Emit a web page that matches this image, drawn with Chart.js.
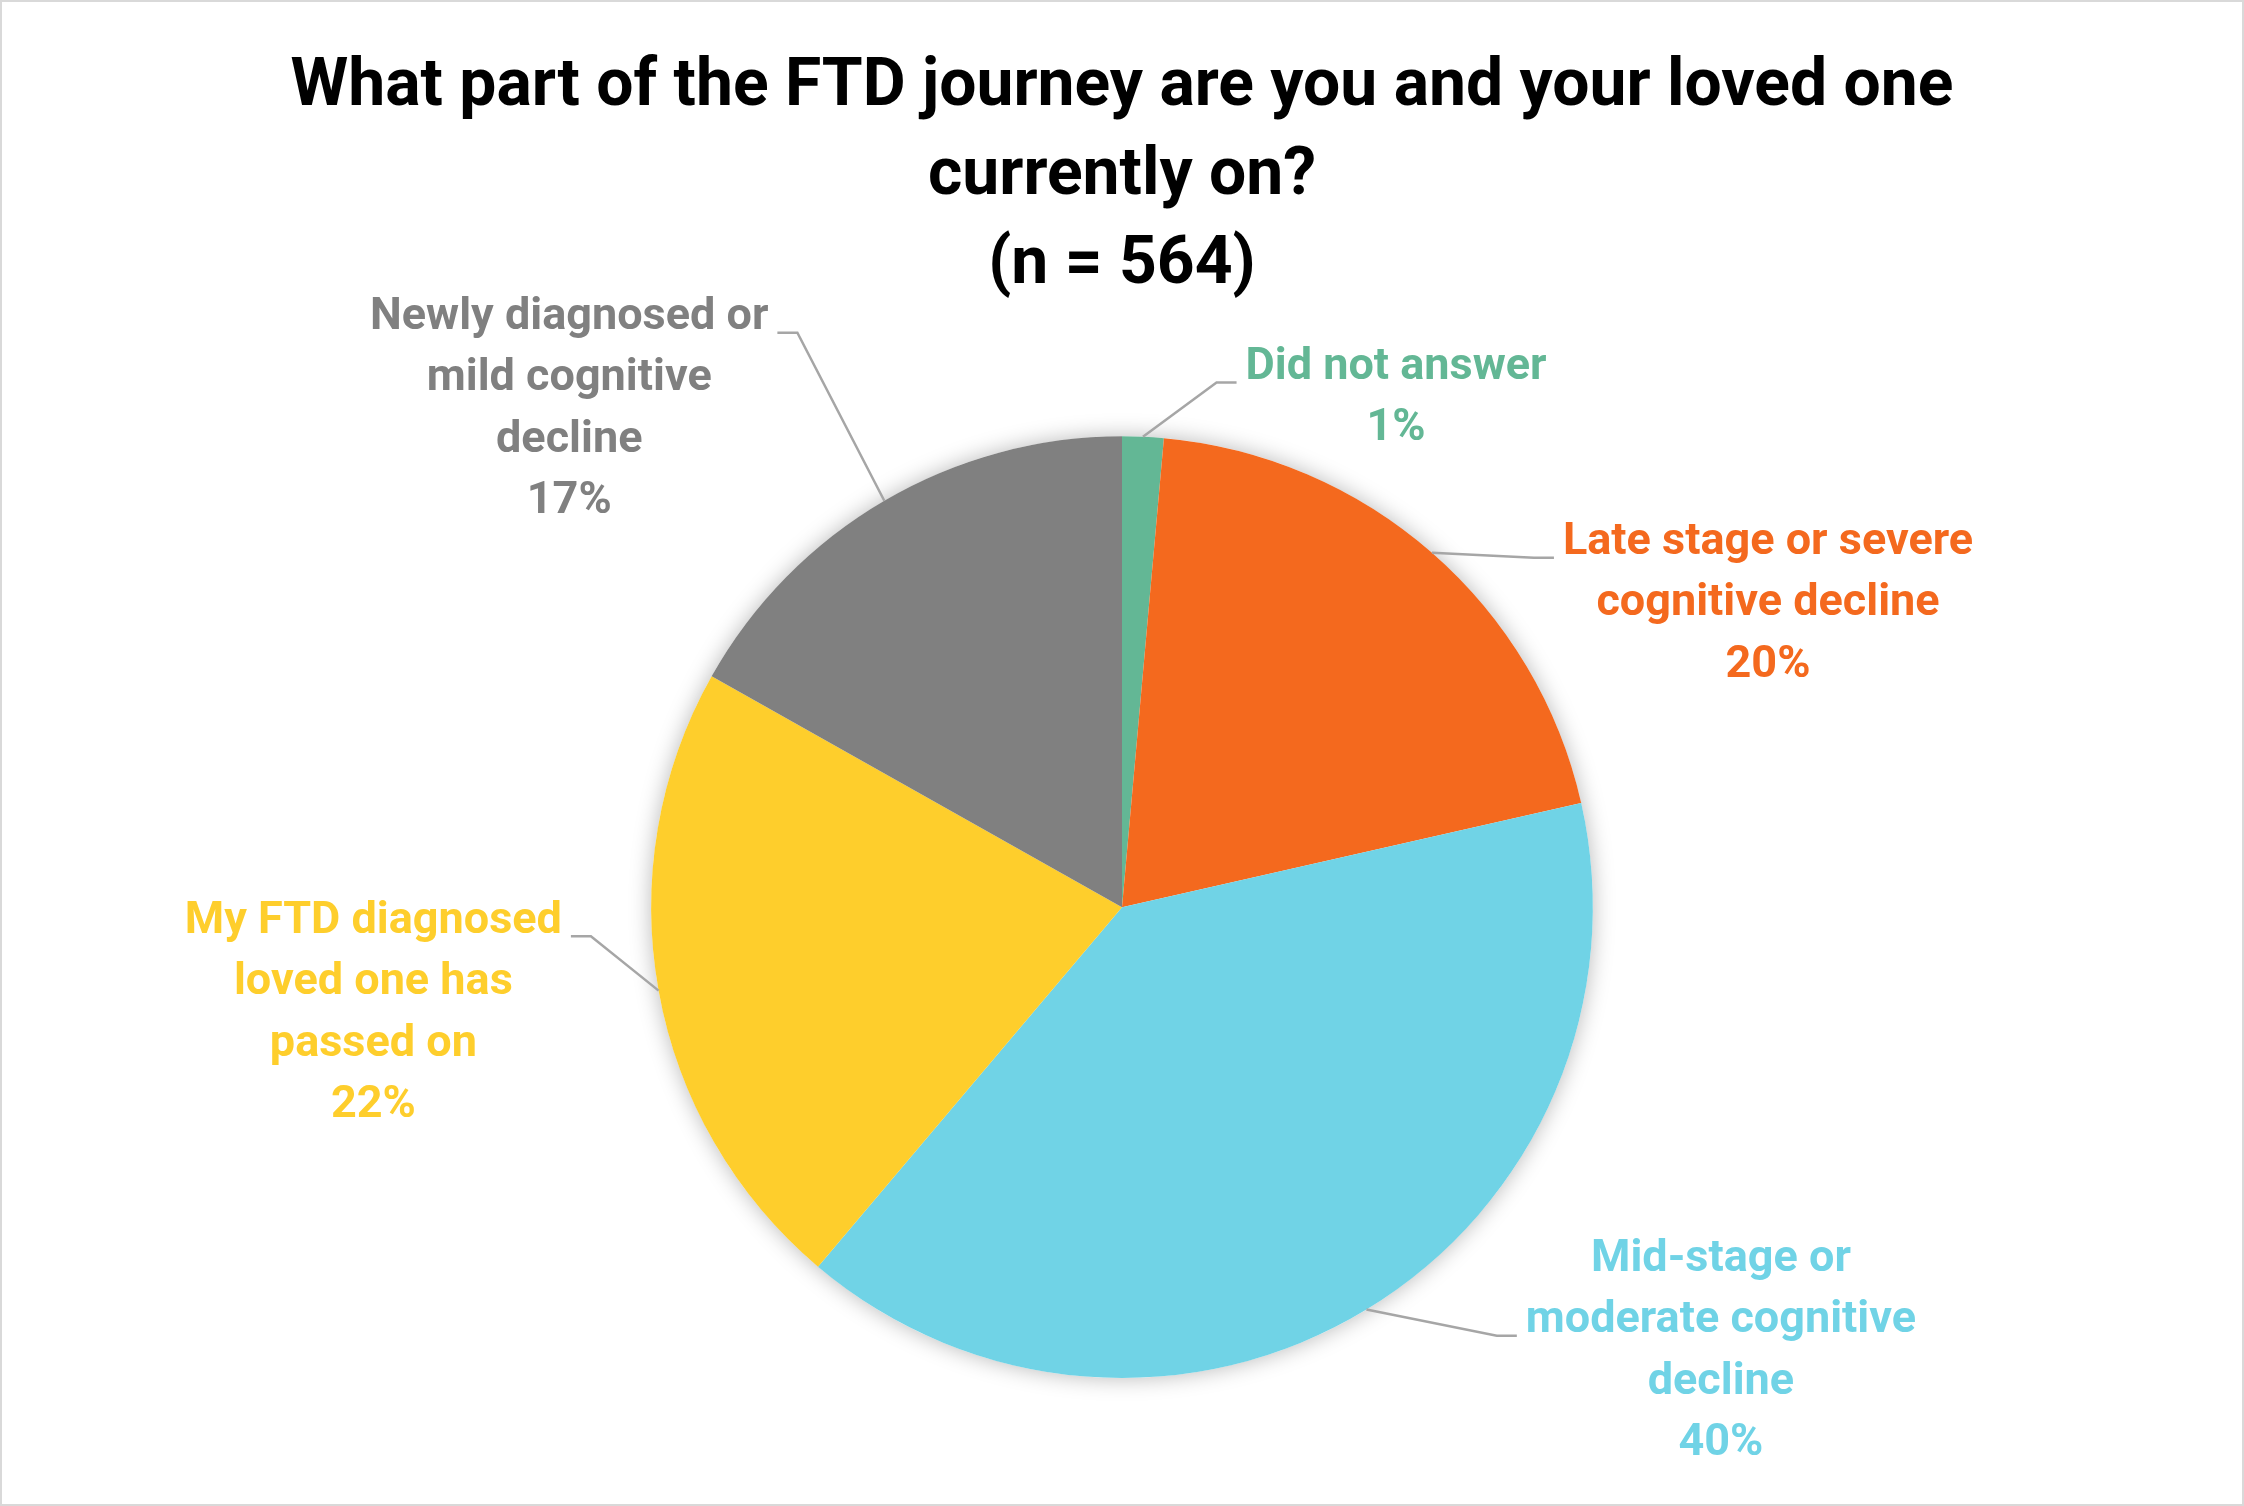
<!DOCTYPE html>
<html>
<head>
<meta charset="utf-8">
<script src="https://cdn.jsdelivr.net/npm/chart.js@4.4.1/dist/chart.umd.min.js"></script>
<style>
  body { margin: 0; background: #fff; }
  canvas { display: block; }
</style>
</head>
<body>
<canvas id="myChart" width="2244" height="1506"></canvas>
<script>
// answers, wrapped the way the labels show them
var categories = [
  ['Did not answer'],
  ['Late stage or severe', 'cognitive decline'],
  ['Mid-stage or', 'moderate cognitive', 'decline'],
  ['My FTD diagnosed', 'loved one has', 'passed on'],
  ['Newly diagnosed or', 'mild cognitive', 'decline']
];
// respondents per answer (n = 564)
var counts = [8, 113, 224, 124, 95];
var colors = ['#63B795', '#F4691E', '#70D3E6', '#FECE2C', '#808080'];

// label block position relative to pie centre (in radii), first text line
var labelX = [0.582, 1.372, 1.272, -1.590, -1.174];
var labelY = [-1.146, -0.774, 0.748, 0.030, -1.252];
// text line the leader line attaches to
var attachLine = [0, 0, 1, 0, 0];

var FONT = 'bold 45px Roboto';
var LINE_H = 61.5;

var total = counts.reduce(function (a, b) { return a + b; }, 0);

// white background, pie shadow, labels with leader lines
const leaderLabels = {
  id: 'leaderLabels',
  beforeDraw(chart) {
    const ctx = chart.ctx;
    ctx.save();
    ctx.fillStyle = '#fff';
    ctx.fillRect(0, 0, chart.width, chart.height);
    ctx.restore();
  },
  beforeDatasetsDraw(chart) {
    const arc = chart.getDatasetMeta(0).data[0];
    const ctx = chart.ctx;
    ctx.save();
    ctx.shadowColor = 'rgba(0,0,0,0.28)';
    ctx.shadowBlur = 22;
    ctx.fillStyle = '#fff';
    ctx.beginPath();
    ctx.arc(arc.x, arc.y, arc.outerRadius, 0, Math.PI * 2);
    ctx.fill();
    ctx.restore();
  },
  afterDatasetsDraw(chart) {
    const ctx = chart.ctx;
    const meta = chart.getDatasetMeta(0);
    meta.data.forEach(function (arc, i) {
      const r = arc.outerRadius;
      const mid = (arc.startAngle + arc.endAngle) / 2;
      const ex = arc.x + Math.cos(mid) * r;
      const ey = arc.y + Math.sin(mid) * r;
      const cx = arc.x + labelX[i] * r;
      const y0 = arc.y + labelY[i] * r;
      const pct = Math.round(counts[i] / total * 100) + '%';
      const lines = categories[i].concat([pct]);

      ctx.save();
      ctx.font = FONT;
      ctx.fillStyle = colors[i];
      ctx.textAlign = 'center';
      ctx.textBaseline = 'middle';
      lines.forEach(function (t, k) {
        ctx.fillText(t, cx, y0 + k * LINE_H);
      });

      // leader line: short horizontal piece at the text, then to the slice
      const al = attachLine[i];
      const w = ctx.measureText(lines[al]).width;
      const ly = y0 + al * LINE_H + 15;
      let sx, kx;
      if (cx > arc.x) {
        sx = cx - w / 2 - 9;
        kx = sx - 20;
      } else {
        sx = cx + w / 2 + 9;
        kx = sx + 20;
      }
      ctx.strokeStyle = '#A6A6A6';
      ctx.lineWidth = 2.5;
      ctx.beginPath();
      ctx.moveTo(sx, ly);
      ctx.lineTo(kx, ly);
      ctx.lineTo(ex, ey);
      ctx.stroke();
      ctx.restore();
    });
  },
  afterDraw(chart) {
    const ctx = chart.ctx;
    ctx.save();
    ctx.strokeStyle = '#D9D9D9';
    ctx.lineWidth = 2;
    ctx.strokeRect(1, 1, chart.width - 2, chart.height - 2);
    ctx.restore();
  }
};

const data = {
  labels: categories,
  datasets: [{
    data: counts,
    backgroundColor: colors,
    borderWidth: 0,
    hoverOffset: 0
  }]
};

const config = {
  type: 'pie',
  data: data,
  options: {
    responsive: false,
    animation: false,
    events: [],
    layout: {
      padding: { top: 0, bottom: 128, left: 200, right: 200 }
    },
    plugins: {
      legend: { display: false },
      tooltip: { enabled: false },
      title: {
        display: true,
        text: ['What part of the FTD journey are you and your loved one', 'currently on?', '(n = 564)'],
        color: '#000',
        font: { family: 'Roboto', size: 66, weight: 'bold', lineHeight: 1.35 },
        padding: { top: 44, bottom: 125 }
      }
    }
  },
  plugins: [leaderLabels]
};

const myChart = new Chart(document.getElementById('myChart'), config);
</script>
</body>
</html>
